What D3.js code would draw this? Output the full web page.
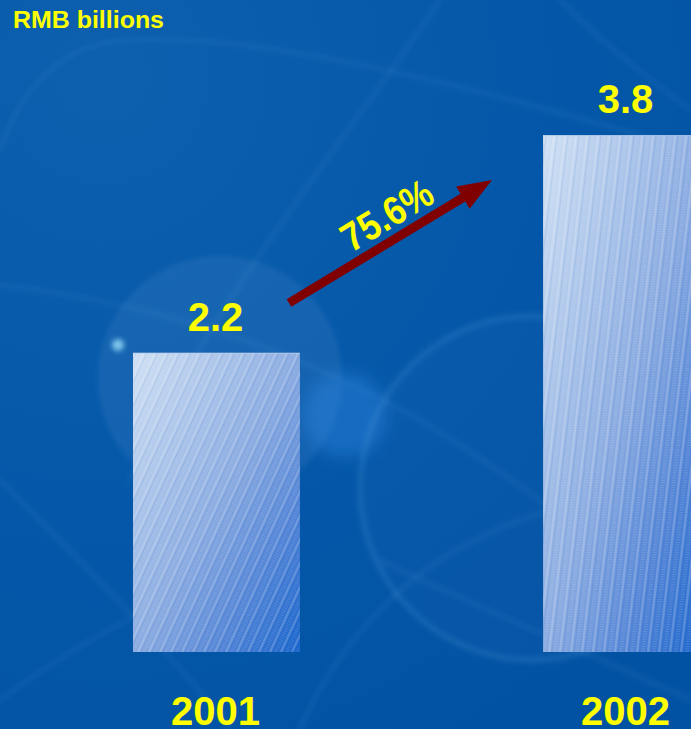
<!DOCTYPE html>
<html>
<head>
<meta charset="utf-8">
<script src="https://cdn.jsdelivr.net/npm/d3@7/dist/d3.min.js"></script>
<style>
  html, body { margin: 0; padding: 0; background: #0556a8; overflow: hidden; }
  svg { display: block; font-family: "Liberation Sans", Arial, sans-serif; }
</style>
</head>
<body>
<svg id="chart" width="691" height="729"></svg>
<script>
// Revenue, RMB billions
const years = ["2001", "2002"];
const revenue = [2.2, 3.8];
const valueLabels = ["2.2", "3.8"];
const growthLabel = "75.6%";
const unitLabel = "RMB billions";

const W = 691, H = 729;
const svg = d3.select("#chart");
const defs = svg.append("defs");

// ---- background ----
const bgGrad = defs.append("radialGradient").attr("id", "bg")
  .attr("cx", 0.15).attr("cy", 0.1).attr("r", 1.1);
bgGrad.append("stop").attr("offset", 0).attr("stop-color", "#0c60ae");
bgGrad.append("stop").attr("offset", 0.6).attr("stop-color", "#0457a8");
bgGrad.append("stop").attr("offset", 1).attr("stop-color", "#0252a3");
svg.append("rect").attr("width", W).attr("height", H).attr("fill", "url(#bg)");

const blur = defs.append("filter").attr("id", "soft").attr("x", "-50%").attr("y", "-50%").attr("width", "200%").attr("height", "200%");
blur.append("feGaussianBlur").attr("stdDeviation", 2.5);
const blurBig = defs.append("filter").attr("id", "softer").attr("x", "-50%").attr("y", "-50%").attr("width", "200%").attr("height", "200%");
blurBig.append("feGaussianBlur").attr("stdDeviation", 8);

const deco = svg.append("g").attr("fill", "none").attr("stroke", "#5fa8e0")
  .attr("stroke-linecap", "round").attr("filter", "url(#soft)");
// faint light streaks
const streaks = [
  "M0,150 C20,90 60,50 110,42 C220,28 420,70 691,150",
  "M440,0 C380,90 300,190 230,300 C190,360 160,420 130,480",
  "M0,285 C120,300 260,330 420,420 C520,480 620,560 691,620",
  "M0,480 C80,560 160,640 230,729",
  "M0,700 C80,640 160,600 260,560",
  "M300,729 C330,660 380,600 440,560 C520,510 600,490 691,500",
  "M560,0 C600,40 650,80 691,110",
  "M380,560 C460,600 560,640 691,700"
];
deco.selectAll("path").data(streaks).join("path")
  .attr("d", d => d).attr("stroke-width", 4).attr("stroke-opacity", 0.12);

// lens flare discs
svg.append("circle").attr("cx", 220).attr("cy", 378).attr("r", 122)
  .attr("fill", "#6fa6dc").attr("fill-opacity", 0.14).attr("filter", "url(#soft)");
svg.append("circle").attr("cx", 345).attr("cy", 415).attr("r", 42)
  .attr("fill", "#2d8ae6").attr("fill-opacity", 0.4).attr("filter", "url(#softer)");
svg.append("circle").attr("cx", 532).attr("cy", 488).attr("r", 172)
  .attr("fill", "#3c86cf").attr("fill-opacity", 0.05)
  .attr("stroke", "#5fa8e0").attr("stroke-opacity", 0.18).attr("stroke-width", 6)
  .attr("filter", "url(#soft)");
svg.append("circle").attr("cx", 118).attr("cy", 345).attr("r", 6)
  .attr("fill", "#9fe6ff").attr("fill-opacity", 0.75).attr("filter", "url(#soft)");

// ---- scales ----
const x = d3.scaleBand().domain(years).range([133, 710])
  .paddingInner(0.593).paddingOuter(0);
const y = d3.scaleLinear().domain([0, 4]).range([652, 652 - 136 * 4]);

// bar fill: light top-left fading into blue bottom-right
const barGrad = defs.append("linearGradient").attr("id", "barFill")
  .attr("x1", 0).attr("y1", 0).attr("x2", 1).attr("y2", 1);
barGrad.append("stop").attr("offset", 0).attr("stop-color", "#d0e1f4");
barGrad.append("stop").attr("offset", 0.5).attr("stop-color", "#8aabe1");
barGrad.append("stop").attr("offset", 0.75).attr("stop-color", "#5284d6");
barGrad.append("stop").attr("offset", 1).attr("stop-color", "#1563cc");

const data = years.map((yr, i) => ({ year: yr, value: revenue[i], label: valueLabels[i] }));

// horizontal drift of the texture stripes over each bar's height
const stripeRun = [138, 60];

const bars = svg.append("g").selectAll("g").data(data).join("g");

bars.each(function (d, i) {
  const g = d3.select(this);
  const bx = x(d.year), bw = x.bandwidth();
  const by = y(d.value), bh = y(0) - y(d.value);
  const clipId = "clip" + i;
  defs.append("clipPath").attr("id", clipId)
    .append("rect").attr("x", bx).attr("y", by).attr("width", bw).attr("height", bh);
  g.append("rect").attr("x", bx).attr("y", by).attr("width", bw).attr("height", bh)
    .attr("fill", "url(#barFill)");
  // diagonal hatching
  const run = stripeRun[i];
  const gap = 11;
  const offs = d3.range(-run - gap, bw + gap, gap);
  const hatch = g.append("g").attr("clip-path", `url(#${clipId})`);
  hatch.selectAll("line.a").data(offs).join("line").attr("class", "a")
    .attr("x1", o => bx + o).attr("y1", by + bh).attr("x2", o => bx + o + run).attr("y2", by)
    .attr("stroke", "#ffffff").attr("stroke-opacity", 0.2).attr("stroke-width", 2.5);
  hatch.selectAll("line.b").data(offs).join("line").attr("class", "b")
    .attr("x1", o => bx + o + 6).attr("y1", by + bh).attr("x2", o => bx + o + 6 + run).attr("y2", by)
    .attr("stroke", "#ffffff").attr("stroke-opacity", 0.14).attr("stroke-width", 4)
    .attr("stroke-dasharray", "1 1.5");
  hatch.selectAll("line.c").data(offs).join("line").attr("class", "c")
    .attr("x1", o => bx + o + 3).attr("y1", by + bh).attr("x2", o => bx + o + 3 + run).attr("y2", by)
    .attr("stroke", "#3a70c4").attr("stroke-opacity", 0.12).attr("stroke-width", 1);
  // thin highlight along the top edge
  g.append("line").attr("x1", bx).attr("x2", bx + bw).attr("y1", by + 0.5).attr("y2", by + 0.5)
    .attr("stroke", "#b8cdee").attr("stroke-opacity", 0.7);
});

// value labels
svg.append("g").selectAll("text").data(data).join("text")
  .attr("x", d => x(d.year) + x.bandwidth() / 2 - 1)
  .attr("y", d => y(d.value) - 22)
  .attr("text-anchor", "middle")
  .attr("font-size", 40).attr("font-weight", "bold").attr("fill", "#ffff00")
  .text(d => d.label);

// category labels
svg.append("g").selectAll("text").data(data).join("text")
  .attr("x", d => x(d.year) + x.bandwidth() / 2 - 1)
  .attr("y", 725)
  .attr("text-anchor", "middle")
  .attr("font-size", 40).attr("font-weight", "bold").attr("fill", "#ffff00")
  .text(d => d.year);

// unit label
svg.append("text").attr("x", 13).attr("y", 28)
  .attr("font-size", 23).attr("font-weight", "bold").attr("fill", "#ffff00")
  .attr("textLength", 151).attr("lengthAdjust", "spacingAndGlyphs")
  .text(unitLabel);

// growth arrow between the two bars
const ax1 = 289, ay1 = 303, ax2 = 492, ay2 = 180;
const ang = Math.atan2(ay2 - ay1, ax2 - ax1);
const len = Math.hypot(ax2 - ax1, ay2 - ay1);
const headL = 34, headW = 13, shaft = 4.5;
const arrow = svg.append("g")
  .attr("transform", `translate(${ax1},${ay1}) rotate(${ang * 180 / Math.PI})`);
arrow.append("path")
  .attr("d", `M0,${-shaft} L${len - headL},${-shaft} L${len - headL},${-headW} L${len},0 L${len - headL},${headW} L${len - headL},${shaft} L0,${shaft} Z`)
  .attr("fill", "#800000");

svg.append("text")
  .attr("transform", `translate(394,227) rotate(${ang * 180 / Math.PI})`)
  .attr("text-anchor", "middle")
  .attr("font-size", 40).attr("font-weight", "bold").attr("fill", "#ffff00")
  .attr("textLength", 100).attr("lengthAdjust", "spacingAndGlyphs")
  .text(growthLabel);
</script>
</body>
</html>
